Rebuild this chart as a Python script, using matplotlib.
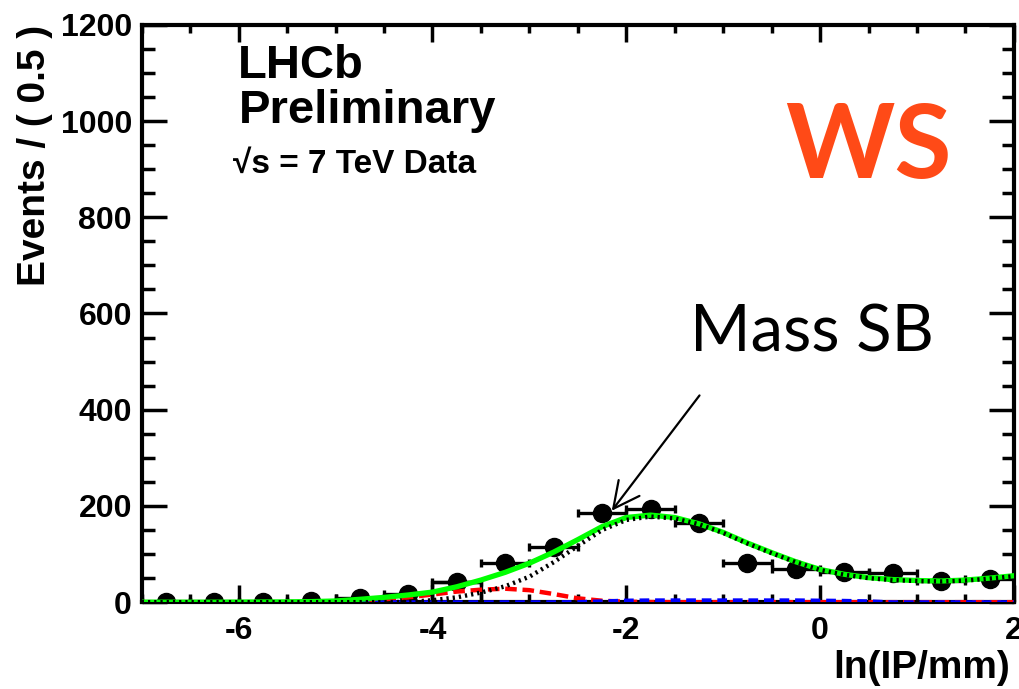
import numpy as np
import matplotlib
matplotlib.use("Agg")
import matplotlib.pyplot as plt

plt.rcParams["axes.unicode_minus"] = False

# binned data: bin centres (width 0.5) and event counts
bin_centres = [-6.75, -6.25, -5.75, -5.25, -4.75, -4.25, -3.75, -3.25, -2.75,
               -2.25, -1.75, -1.25, -0.75, -0.25, 0.25, 0.75, 1.25, 1.75]
counts = [0, 0, 0, 3, 9, 18, 41, 82, 115,
          186, 194, 165, 82, 69, 63, 61, 45, 49]
half_width = [0.25] * len(bin_centres)

# fit curves sampled every 0.25 in ln(IP/mm)
curve_x = [-7.0, -6.75, -6.5, -6.25, -6.0, -5.75, -5.5, -5.25, -5.0, -4.75,
           -4.5, -4.25, -4.0, -3.75, -3.5, -3.25, -3.0, -2.75, -2.5, -2.25,
           -2.0, -1.75, -1.5, -1.25, -1.0, -0.75, -0.5, -0.25, 0.0, 0.25,
           0.5, 0.75, 1.0, 1.25, 1.5, 1.75, 2.0]
total_fit = [0, 0, 0, 0, 0.2, 0.4, 0.6, 1.2, 2.5, 6,
             10, 15, 21, 32, 46, 62, 81, 104, 130, 157,
             176, 181, 176, 163, 145, 123, 103, 84, 68, 58,
             51, 47, 45, 44, 46, 50, 55]
sideband_bkg = [0, 0, 0, 0, 0, 0, 0, 0, 0, 0,
                0, 0.5, 4, 10, 20, 33, 53, 83, 117, 150,
                171, 178, 174, 162, 144, 122, 102, 83, 67, 57,
                50, 46, 44, 43, 45, 49, 54]
prompt_comp = [0, 0, 0, 0, 0, 0, 0, 0.3, 1, 3,
               6, 10, 16, 22, 26, 28, 25, 17, 8, 3,
               1, 0.3, 0, 0, 0, 0, 0, 0, 0, 0,
               0, 0, 0, 0, 0, 0, 0]
secondary_comp = [0, 0, 0, 0, 0, 0, 0, 0, 0, 0,
                  0, 0, 0, 0, 0, 0, 0, 0, 0.5, 2,
                  3.5, 4, 4, 4, 4, 4, 4, 4, 3.5, 3,
                  2, 0, 0, 0, 0, 0, 0]

box_centre = [-3.75]
box_height = [41]

fig = plt.figure(figsize=(10.2, 6.89), dpi=100)
ax = fig.add_axes([0.139, 0.126, 0.855, 0.838])

font = "Liberation Sans"

# data points with horizontal bin-width bars
ax.errorbar(bin_centres, counts, xerr=half_width, fmt="o", color="black",
            ms=13, elinewidth=2.4, capsize=3, capthick=2.4, zorder=3)
ax.bar(box_centre, box_height, width=0.5, fill=False, edgecolor="black",
       linewidth=2.4, zorder=3)

# fit components
ax.plot(curve_x, prompt_comp, color="#ff0000", lw=3.2, dashes=(2.6, 1.3), zorder=4)
ax.plot(curve_x, secondary_comp, color="#0000ff", lw=2.8, dashes=(2.5, 1.5), zorder=4)
ax.plot(curve_x, total_fit, color="#00ff00", lw=3.8, zorder=5)
ax.plot(curve_x, sideband_bkg, color="black", lw=3.2, dashes=(0.5, 0.9), zorder=6)

ax.set_xlim(-7, 2)
ax.set_ylim(0, 1200)
ax.set_xticks([-6, -4, -2, 0, 2])
ax.set_xticks(np.arange(-7, 2.01, 0.5), minor=True)
ax.set_yticks(np.arange(0, 1201, 200))
ax.set_yticks(np.arange(0, 1201, 50), minor=True)

for s in ax.spines.values():
    s.set_linewidth(3)

ax.tick_params(which="both", direction="in", top=True, right=True, width=2.5)
ax.tick_params(axis="x", which="major", length=12, pad=10)
ax.tick_params(axis="x", which="minor", length=6)
ax.tick_params(axis="y", which="major", length=18, pad=7)
ax.tick_params(axis="y", which="minor", length=9)
for lab in ax.get_xticklabels() + ax.get_yticklabels():
    lab.set_fontfamily(font)
    lab.set_fontweight("bold")
    lab.set_fontsize(23)

# axis titles
fig.text(1010 / 1020, 1 - 668 / 689, "ln(IP/mm)", ha="right", va="center",
         fontsize=28, fontweight="bold", family=font)
fig.text(35 / 1020, 1 - 25 / 689, "Events / ( 0.5 )", ha="center", va="top",
         rotation=90, fontsize=28, fontweight="bold", family=font)

# experiment labels
ax.text(-6.01, 1089, "LHCb", ha="left", va="baseline", fontsize=34,
        fontweight="bold", family=font)
ax.text(-6.0, 996, "Preliminary", ha="left", va="baseline", fontsize=34,
        fontweight="bold", family=font)
ax.text(-6.06, 892, "\u221as = 7 TeV Data", ha="left", va="baseline",
        fontsize=24, fontweight="bold", family=font)

ax.text(-0.364, 881, "WS", ha="left", va="baseline", fontsize=75,
        fontweight="bold", family="Lato", color="#ff4a17")

ax.annotate("Mass SB", xy=(-2.15, 190), xytext=(-1.345, 520),
            ha="left", va="baseline", fontsize=47, family="Lato",
            fontweight="normal",
            arrowprops=dict(arrowstyle="->", color="black", lw=1.6,
                            shrinkA=0, shrinkB=0,
                            relpos=(0.04, -0.55)))

fig.savefig("out.png", dpi=100)
